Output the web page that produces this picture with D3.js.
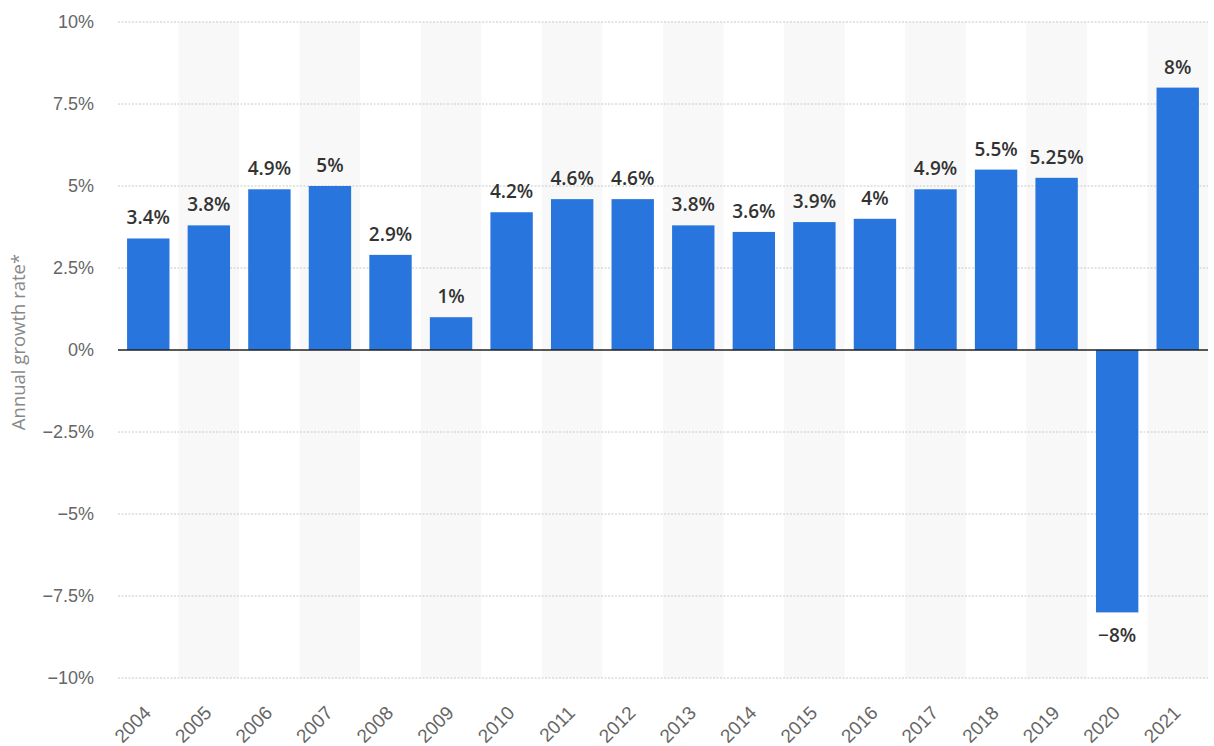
<!DOCTYPE html>
<html>
<head>
<meta charset="utf-8">
<script src="https://cdn.jsdelivr.net/npm/d3@7"></script>
<style>
  body { margin: 0; background: #fff; }
  svg { font-family: "Open Sans", "Noto Sans", sans-serif; }
</style>
</head>
<body>
<div id="chart"></div>
<script>
// Data
const years = ["2004", "2005", "2006", "2007", "2008", "2009", "2010", "2011", "2012",
    "2013", "2014", "2015", "2016", "2017", "2018", "2019", "2020", "2021"];
const growth = [3.4, 3.8, 4.9, 5, 2.9, 1, 4.2, 4.6, 4.6, 3.8, 3.6, 3.9, 4, 4.9, 5.5, 5.25, -8, 8];
const yTicks = [10, 7.5, 5, 2.5, 0, -2.5, -5, -7.5, -10];

const width = 1214, height = 746;
const margin = { top: 22, right: 6, bottom: 68, left: 118 };

const svg = d3.select("#chart").append("svg")
    .attr("width", width)
    .attr("height", height);

const x = d3.scaleBand()
    .domain(years)
    .range([margin.left, width - margin.right])
    .paddingInner(0.3)
    .paddingOuter(0.15);

const y = d3.scaleLinear()
    .domain([-10, 10])
    .range([height - margin.bottom, margin.top]);

const fmt = (v) => (v < 0 ? "\u2212" + Math.abs(v) : v) + "%";

// Alternating column backgrounds
const step = x.step();
svg.append("g").selectAll("rect")
    .data(years.filter((d, i) => i % 2 === 1))
    .enter().append("rect")
    .attr("x", (d) => x(d) - x.paddingInner() * step / 2)
    .attr("y", margin.top)
    .attr("width", step)
    .attr("height", y(-10) - margin.top)
    .attr("fill", "#f8f8f8");

// Grid lines
svg.append("g").selectAll("line")
    .data(yTicks.filter((d) => d !== 0))
    .enter().append("line")
    .attr("x1", margin.left)
    .attr("x2", width - margin.right)
    .attr("y1", (d) => y(d))
    .attr("y2", (d) => y(d))
    .attr("stroke", "#c8c8c8")
    .attr("stroke-dasharray", "2,1.5");

// Y axis labels
const yAxis = svg.append("g")
    .attr("transform", `translate(${margin.left - 24},0)`)
    .call(d3.axisLeft(y).tickValues(yTicks).tickSize(0).tickFormat(fmt));
yAxis.select(".domain").remove();
yAxis.selectAll("text")
    .attr("x", 0)
    .attr("fill", "#666")
    .style("font-size", "18px");

// Bars
svg.append("g").selectAll("rect")
    .data(years)
    .enter().append("rect")
    .attr("x", (d) => x(d))
    .attr("y", (d, i) => y(Math.max(0, growth[i])))
    .attr("width", x.bandwidth())
    .attr("height", (d, i) => Math.abs(y(growth[i]) - y(0)))
    .attr("fill", "#2876dd");

// Zero line
svg.append("line")
    .attr("x1", margin.left)
    .attr("x2", width - margin.right)
    .attr("y1", y(0))
    .attr("y2", y(0))
    .attr("stroke", "#222")
    .attr("stroke-width", 1.5);

// Value labels
svg.append("g").selectAll("text")
    .data(years)
    .enter().append("text")
    .attr("x", (d) => x(d) + x.bandwidth() / 2)
    .attr("y", (d, i) => growth[i] >= 0 ? y(growth[i]) - 14 : y(growth[i]) + 30)
    .attr("text-anchor", "middle")
    .attr("fill", "#333")
    .style("font-size", "19px")
    .style("font-weight", "600")
    .text((d, i) => fmt(growth[i]));

// X axis labels
const xAxis = svg.append("g")
    .attr("transform", `translate(0,${y(-10)})`)
    .call(d3.axisBottom(x).tickSize(0));
xAxis.select(".domain").remove();
xAxis.selectAll("text")
    .attr("fill", "#666")
    .style("font-size", "19px")
    .attr("text-anchor", "end")
    .attr("y", 0)
    .attr("dy", 0)
    .attr("transform", "translate(4,36) rotate(-45)");

// Y axis title
svg.append("text")
    .attr("transform", `translate(25,${y(0) - 8}) rotate(-90)`)
    .attr("text-anchor", "middle")
    .attr("fill", "#888")
    .style("font-size", "18.5px")
    .text("Annual growth rate*");
</script>
</body>
</html>
